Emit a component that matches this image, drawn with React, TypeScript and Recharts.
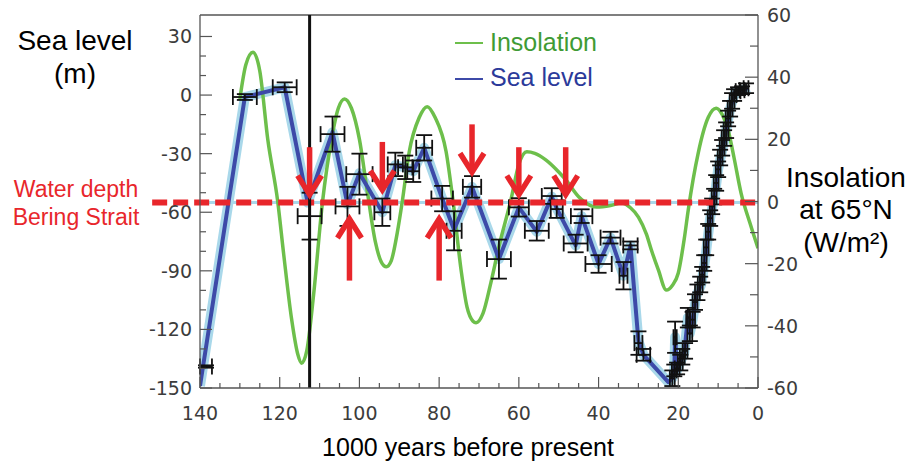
import React from 'react';
import {
  ComposedChart, Line, Scatter, ErrorBar, XAxis, YAxis, ReferenceLine,
} from 'recharts';

// x axis: thousand years before present (reversed, 140 -> 0)
const xTicks = Array.from({ length: 29 }, (_, i) => i * 5);
const seaTicks = [-150, -140, -130, -120, -110, -100, -90, -80, -70, -60, -50, -40, -30, -20, -10, 0, 10, 20, 30];
const insTicks = [-60, -50, -40, -30, -20, -10, 0, 10, 20, 30, 40, 50, 60];

// summer insolation anomaly at 65N (W/m2)
const insolation = [
  [130, 33], [128.5, 44], [126.7, 48], [125, 42], [123, 20], [120.5, 0], [119, -17], [117, -38],
  [115.5, -49], [114.5, -52], [113.2, -48], [111.5, -30], [109.25, 0], [107, 20], [105.3, 30],
  [103.75, 33], [102, 30], [100, 20], [98, 3], [96, -13], [94.5, -19.5], [93.25, -21], [92, -19],
  [90.5, -10], [89.25, 0], [87.5, 16], [85, 27], [83, 30.5], [81, 27], [78.25, 16], [76.5, 0],
  [74.5, -22], [73, -34], [71.5, -38.5], [70.75, -39], [69, -36], [67, -26], [65, -14.5],
  [62, 0.5], [60, 12], [58, 16], [56, 15.5], [53.25, 13.4], [50, 9.5], [48.25, 7], [45, 1.5],
  [42, -1.3], [40.5, -1.8], [37, -1.3], [34.25, -0.5], [32, -2], [30, -5], [28, -10.5],
  [26.75, -15.6], [25, -22], [23, -28.5], [21.5, -27], [20, -23], [18.5, -12], [17.5, -2.7],
  [15, 15.6], [12.5, 27], [10.5, 30], [9, 28], [7.5, 23], [6, 14], [4.25, 2.7], [2, -7], [0, -15],
].map(([t, ins]) => ({ t, ins }));

// sea level reconstruction (m)
const seaLine = [
  [140, -149], [128.75, -1], [118.75, 4], [113, -55], [106.75, -19], [103, -56], [100, -40],
  [94.25, -60], [91, -36], [88.5, -37], [86.5, -39], [83.75, -27], [79.25, -53], [76.25, -69],
  [71.75, -47], [65, -84], [60, -57.5], [55.5, -70], [51.75, -52], [50.5, -58], [45.75, -77],
  [44.25, -62], [40, -86.5], [37, -73], [33.75, -92.5], [32, -77], [30, -126], [28.75, -133],
  [22.5, -147], [21.5, -145], [21, -141], [20.8, -124], [20.3, -141], [19.5, -137], [18.5, -132],
  [17.6, -114], [17.1, -122], [16.4, -115], [15.5, -103], [14.25, -97], [13.25, -84], [12, -63],
  [10.75, -50], [10, -38], [8.25, -21], [7, -7], [5.75, 1.5], [3.25, 3], [2.5, 4],
].map(([t, sea]) => ({ t, sea }));

// dated samples: age, level, age error, level error
const seaSamples = [
  [138.5, -139, 1.5, 0.6], [128.75, -1, 3, 1.5], [118.75, 4, 3, 2.5], [112.5, -62, 3, 12],
  [106.75, -20, 3, 9], [103, -57, 3, 10], [100, -40.5, 3.3, 10.5], [94.25, -60, 2, 7],
  [91, -35.5, 1.9, 6], [88.5, -37, 1.8, 6], [86.5, -39, 1.5, 5.5], [83.75, -27, 2, 6.5],
  [79.25, -53, 2.7, 6.5], [76.25, -69.5, 1.9, 10], [71.75, -47, 2.3, 5.5], [65, -84, 3, 10],
  [60, -57.5, 2.5, 4.7], [55.5, -69.5, 3, 5], [51.75, -51.7, 2.5, 4], [50.5, -58.4, 1.5, 4.5],
  [45.75, -76, 3, 4.5], [44.25, -62, 2.7, 3.5], [40, -86.5, 3.3, 4.5], [37, -73, 2.5, 3],
  [33.75, -92.5, 1, 7], [32, -77, 1.8, 2], [30, -127, 1, 6], [28.75, -133, 1.7, 3],
  [21.5, -145, 0.6, 4], [21, -141, 0.6, 3], [20.8, -124, 0.4, 8], [20.3, -140, 0.6, 3],
  [19.5, -137, 0.6, 4], [19, -134, 0.6, 4], [18.3, -131, 0.6, 4], [17.6, -114, 0.4, 5],
  [17.1, -122, 0.6, 4], [16.4, -115, 0.6, 4], [15.8, -106, 0.6, 4], [15.2, -101, 0.6, 4],
  [14.5, -97, 0.6, 4], [14, -92, 0.6, 4], [13.5, -86, 0.6, 4], [13, -78, 0.6, 4],
  [12.5, -70, 0.6, 4], [12, -63, 0.6, 4], [11.5, -57, 0.6, 4], [11, -52, 0.6, 4],
  [10.5, -45, 0.6, 4], [10, -38, 0.6, 4], [9.5, -32, 0.6, 4], [9, -27, 0.6, 4],
  [8.5, -22, 0.6, 4], [8, -18, 0.6, 4], [7.5, -12, 0.6, 4], [7, -7, 0.6, 4],
  [6.5, -3, 0.6, 4], [6, 0, 0.6, 3], [5, 2, 0.6, 2], [4, 2.5, 0.6, 2], [3, 3.5, 0.6, 2.5],
].map(([t, sea, et, es]) => ({ t, sea, et, es }));

const beringDepth = -55;
const eventLine = 112.5;

// red arrows: age, tail level, tip level
const arrows = [
  [112.5, -26.7, -52], [94.25, -24, -49.5], [71.75, -15, -40.5], [60, -26.7, -52],
  [48.25, -26.7, -52], [102.5, -95, -62.4], [80, -95, -62.4],
];

const TICK_FONT = '"DejaVu Sans", sans-serif';
const LABEL_FONT = '"Liberation Sans", Arial, sans-serif';
const AXIS = '#555';
const RED = '#e8262b';

// eslint-disable-next-line @typescript-eslint/no-explicit-any
function SeaTick({ x, y, payload }: any) {
  const major = payload.value % 30 === 0;
  return (
    <g>
      <line x1={x} x2={x + (major ? 12 : 6)} y1={y} y2={y} stroke={AXIS} strokeWidth={1.2} />
      {major && (
        <text x={x - 8} y={y} textAnchor="end" dominantBaseline="central"
          fontFamily={TICK_FONT} fontSize={19} fill="#3c3c3c">{payload.value}</text>
      )}
    </g>
  );
}

// eslint-disable-next-line @typescript-eslint/no-explicit-any
function InsTick({ x, y, payload }: any) {
  const major = payload.value % 20 === 0;
  return (
    <g>
      <line x1={x} x2={x - (major ? 13 : 8)} y1={y} y2={y} stroke={AXIS} strokeWidth={1.2} />
      {major && (
        <text x={x + 9} y={y} textAnchor="start" dominantBaseline="central"
          fontFamily={TICK_FONT} fontSize={19} fill="#3c3c3c">{payload.value}</text>
      )}
    </g>
  );
}

// eslint-disable-next-line @typescript-eslint/no-explicit-any
function AgeTick({ x, y, payload }: any) {
  const major = payload.value % 20 === 0;
  return (
    <g>
      <line x1={x} x2={x} y1={y} y2={y - (major ? 11 : 5)} stroke={AXIS} strokeWidth={1.2} />
      {major && (
        <text x={x} y={y + 25} textAnchor="middle" dominantBaseline="central"
          fontFamily={TICK_FONT} fontSize={19} fill="#3c3c3c">{payload.value}</text>
      )}
    </g>
  );
}

// eslint-disable-next-line @typescript-eslint/no-explicit-any
function Arrow({ x1, y1, x2, y2 }: any) {
  const dir = y2 > y1 ? 1 : -1;
  return (
    <g stroke={RED} strokeWidth={5.5} fill="none">
      <line x1={x1} y1={y1} x2={x2} y2={y2 - dir * 3} />
      <polyline points={`${x2 - 12},${y2 - dir * 21} ${x2},${y2 - dir * 2} ${x2 + 12},${y2 - dir * 21}`} />
    </g>
  );
}

function Txt({ x, y, size, color = '#000', children }: { x: number; y: number; size: number; color?: string; children: React.ReactNode }) {
  return (
    <div style={{
      position: 'absolute', left: x, top: y, transform: 'translate(-50%, -50%)',
      fontFamily: LABEL_FONT, fontSize: size, color, whiteSpace: 'nowrap', lineHeight: 1,
    }}>{children}</div>
  );
}

export default function App() {
  return (
    <div style={{ position: 'absolute', left: 0, top: 0, width: 909, height: 464, background: '#fff' }}>
      <ComposedChart width={909} height={464} margin={{ top: 15, right: 0, bottom: 0, left: 0 }}>
        <XAxis dataKey="t" type="number" domain={[0, 140]} reversed ticks={xTicks} interval={0}
          height={76} tickSize={0} tickMargin={0} tick={<AgeTick />} tickLine={false}
          axisLine={{ stroke: AXIS, strokeWidth: 1.3 }} allowDataOverflow />
        <YAxis yAxisId="sea" domain={[-150, 41]} ticks={seaTicks} interval={0} width={200}
          tickSize={0} tickMargin={0} tick={<SeaTick />} tickLine={false}
          axisLine={{ stroke: AXIS, strokeWidth: 1.3 }} allowDataOverflow />
        <YAxis yAxisId="ins" orientation="right" domain={[-60, 60]} ticks={insTicks} interval={0}
          width={151} tickSize={0} tickMargin={0} tick={<InsTick />} tickLine={false}
          axisLine={{ stroke: AXIS, strokeWidth: 1.3 }} allowDataOverflow />

        <ReferenceLine yAxisId="sea" y={41} stroke={AXIS} strokeWidth={1.3} ifOverflow="visible" />

        <Line data={seaLine} dataKey="sea" yAxisId="sea" type="linear" stroke="#a9d8ea"
          strokeWidth={10} strokeLinejoin="round" dot={false} activeDot={false} isAnimationActive={false} />
        <ReferenceLine yAxisId="sea" y={beringDepth} stroke="#a9d8ea" strokeWidth={3} />
        <Line data={insolation} dataKey="ins" yAxisId="ins" type="monotone" stroke="#6dbf4b"
          strokeWidth={3.5} dot={false} activeDot={false} isAnimationActive={false} />
        <Line data={seaLine} dataKey="sea" yAxisId="sea" type="linear" stroke="#3d4aa8"
          strokeWidth={4} strokeLinejoin="round" dot={false} activeDot={false} isAnimationActive={false} />
        <Scatter data={seaSamples} dataKey="sea" yAxisId="sea" shape={() => <g />} isAnimationActive={false}>
          <ErrorBar dataKey="es" direction="y" width={8} stroke="#111" strokeWidth={1.8} />
          <ErrorBar dataKey="et" direction="x" width={8} stroke="#111" strokeWidth={1.8} />
        </Scatter>

        <ReferenceLine yAxisId="sea" segment={[{ x: 152, y: beringDepth }, { x: 0, y: beringDepth }]}
          stroke={RED} strokeWidth={6} strokeDasharray="15 6" ifOverflow="visible" />
        <ReferenceLine yAxisId="sea" x={eventLine} stroke="#111" strokeWidth={3} />
        {arrows.map(([t, from, to], i) => (
          <ReferenceLine key={i} yAxisId="sea" segment={[{ x: t, y: from }, { x: t, y: to }]}
            shape={<Arrow />} ifOverflow="visible" />
        ))}
      </ComposedChart>

      {/* legend */}
      <svg style={{ position: 'absolute', left: 0, top: 0 }} width={909} height={100}>
        <line x1={455} x2={483} y1={43} y2={43} stroke="#6dbf4b" strokeWidth={2} />
        <line x1={455} x2={483} y1={79} y2={79} stroke="#3d4aa8" strokeWidth={2} />
      </svg>
      <div style={{ position: 'absolute', left: 490, top: 30, fontFamily: LABEL_FONT, fontSize: 25, color: '#3f9b35', lineHeight: 1 }}>Insolation</div>
      <div style={{ position: 'absolute', left: 490, top: 65, fontFamily: LABEL_FONT, fontSize: 25, color: '#2b3a9a', lineHeight: 1 }}>Sea level</div>

      <Txt x={75} y={41} size={28}>Sea level</Txt>
      <Txt x={75} y={74} size={28}>(m)</Txt>
      <Txt x={76} y={189} size={23} color={RED}>Water depth</Txt>
      <Txt x={76} y={217} size={23} color={RED}>Bering Strait</Txt>
      <Txt x={846} y={178} size={28}>Insolation</Txt>
      <Txt x={846} y={210} size={28}>at 65°N</Txt>
      <Txt x={846} y={243} size={28}>(W/m²)</Txt>
      <Txt x={468} y={447} size={25}>1000 years before present</Txt>
    </div>
  );
}
